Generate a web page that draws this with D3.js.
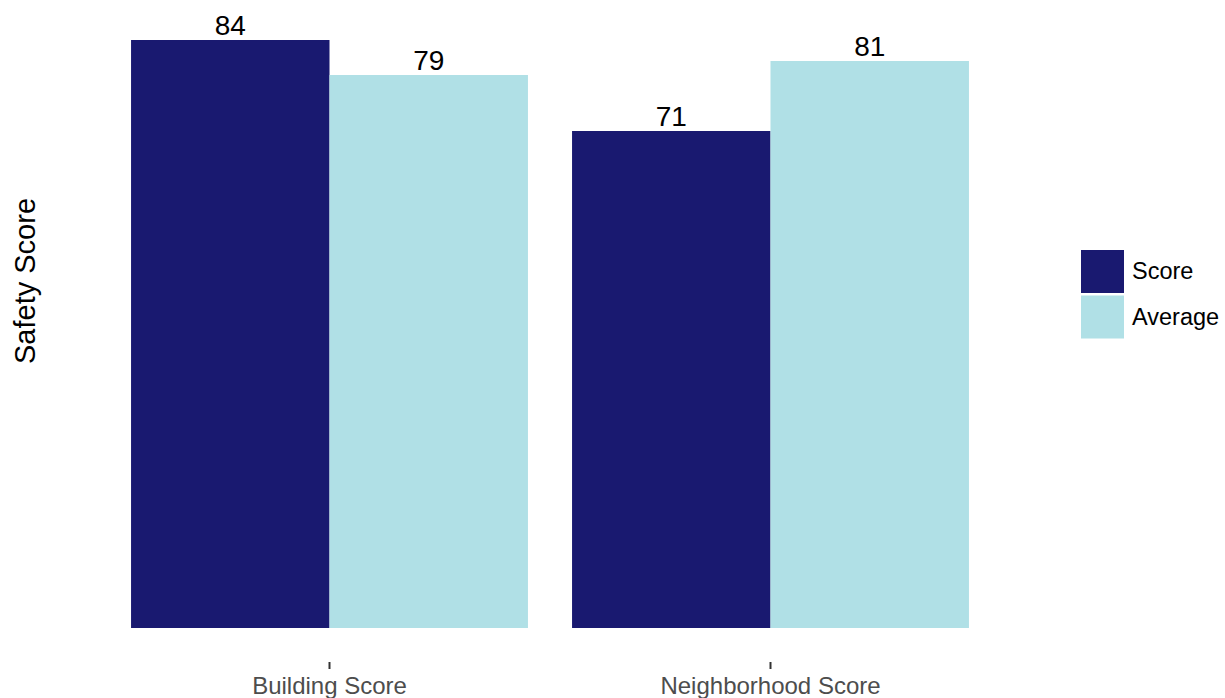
<!DOCTYPE html>
<html>
<head>
<meta charset="utf-8">
<script src="https://cdn.jsdelivr.net/npm/d3@7"></script>
<style>
  html, body { margin: 0; padding: 0; background: #ffffff; }
  text { font-family: "Liberation Sans", Arial, Helvetica, sans-serif; }
</style>
</head>
<body>
<svg id="chart" width="1225" height="698"></svg>
<script>
// Categories, series and values
const categories = ["Building Score", "Neighborhood Score"];
const seriesNames = ["Score", "Average"];
const scoreValues = [84, 71];
const averageValues = [79, 81];
const colors = ["#191970", "#B0E0E6"];
const yAxisTitle = "Safety Score";

const rows = categories.map((c, i) => ({
  category: c,
  values: [
    { series: seriesNames[0], value: scoreValues[i] },
    { series: seriesNames[1], value: averageValues[i] }
  ]
}));

const svg = d3.select("#chart");

const panel = { left: 109, right: 991, top: 10, bottom: 628 };

const x = d3.scaleBand()
  .domain(categories)
  .range([panel.left, panel.right])
  .paddingInner(0.1)
  .paddingOuter(0.05);

const xInner = d3.scaleBand()
  .domain(seriesNames)
  .range([0, x.bandwidth()]);

const yMax = d3.max([...scoreValues, ...averageValues]) * 1.05;
const y = d3.scaleLinear()
  .domain([0, yMax])
  .range([panel.bottom, panel.bottom - yMax * 7]);

const color = d3.scaleOrdinal().domain(seriesNames).range(colors);

// Bars
const groups = svg.append("g").selectAll("g")
  .data(rows)
  .join("g")
  .attr("transform", d => `translate(${x(d.category)},0)`);

groups.selectAll("rect")
  .data(d => d.values)
  .join("rect")
  .attr("x", d => xInner(d.series))
  .attr("y", d => y(d.value))
  .attr("width", xInner.bandwidth())
  .attr("height", d => y(0) - y(d.value))
  .attr("fill", d => color(d.series));

// Value labels
groups.selectAll("text.value")
  .data(d => d.values)
  .join("text")
  .attr("class", "value")
  .attr("x", d => xInner(d.series) + xInner.bandwidth() / 2)
  .attr("y", d => y(d.value) - 5)
  .attr("text-anchor", "middle")
  .attr("font-size", 28)
  .attr("fill", "#000000")
  .text(d => d.value);

// X axis: short ticks and labels, no domain line
const xAxis = d3.axisBottom(x).tickSize(7).tickPadding(8);
const gx = svg.append("g")
  .attr("transform", `translate(0,662)`)
  .call(xAxis);
gx.select(".domain").remove();
gx.selectAll(".tick line").attr("stroke", "#333333").attr("stroke-width", 2);
gx.selectAll(".tick text")
  .attr("font-size", 24)
  .attr("fill", "#4D4D4D")
  .attr("font-family", "'Liberation Sans', Arial, sans-serif");

// Y axis title
svg.append("text")
  .attr("transform", `translate(35,281) rotate(-90)`)
  .attr("text-anchor", "middle")
  .attr("font-size", 29)
  .attr("fill", "#000000")
  .text(yAxisTitle);

// Legend
const legend = svg.append("g").attr("transform", "translate(1081,250)");
const keys = legend.selectAll("g")
  .data(seriesNames)
  .join("g")
  .attr("transform", (d, i) => `translate(0,${i * 45.5})`);
keys.append("rect")
  .attr("width", 43)
  .attr("height", 43)
  .attr("fill", d => color(d));
keys.append("text")
  .attr("x", 51)
  .attr("y", 29)
  .attr("font-size", 23.5)
  .attr("fill", "#000000")
  .text(d => d);
</script>
</body>
</html>
